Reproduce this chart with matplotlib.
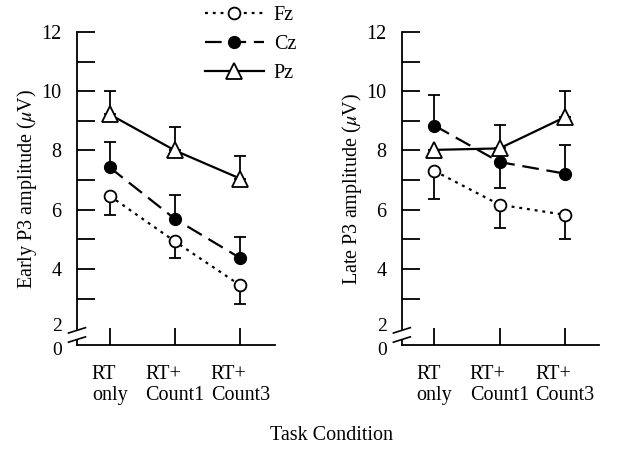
import matplotlib.pyplot as plt
import matplotlib.transforms as mtransforms
import numpy as np

plt.rcParams['font.family'] = ['Liberation Serif', 'DejaVu Serif']
plt.rcParams['mathtext.fontset'] = 'stix'

conditions = ["RT\nonly", "RT+\nCount1", "RT+\nCount3"]

# Early P3 (uV)
early_fz = [6.47, 4.93, 3.45]
early_fz_err = [0.65, 0.57, 0.62]   # drawn downward
early_cz = [7.43, 5.69, 4.37]
early_cz_err = [0.85, 0.80, 0.70]   # drawn upward
early_pz = [9.22, 8.0, 7.05]
early_pz_err = [0.80, 0.78, 0.75]   # drawn upward

# Late P3 (uV)
late_fz = [7.31, 6.17, 5.83]
late_fz_err = [0.95, 0.77, 0.82]
late_cz = [8.84, 7.61, 7.22]
late_cz_err = [1.04, 0.86, 0.95]
late_cz_dir = ["up", "down", "up"]
late_pz = [8.02, 8.07, 9.12]
late_pz_err = [0.0, 0.80, 0.88]

ymin = 1.43
x = np.arange(len(conditions))

fig = plt.figure(figsize=(6.26, 4.5), dpi=100)
ax1 = fig.add_axes([0.123, 0.233, 0.316, 0.696])
ax2 = fig.add_axes([0.642, 0.233, 0.315, 0.696])


def errs(vals, direction):
    lo = [v if d == "down" else 0 for v, d in zip(vals, direction)]
    hi = [v if d == "up" else 0 for v, d in zip(vals, direction)]
    return [lo, hi]


def panel(ax, fz, fz_e, cz, cz_e, cz_dir, pz, pz_e, ylabel):
    ebkw = dict(ecolor="black", elinewidth=1.3, capsize=4.5, capthick=1.3)
    ax.errorbar(x, fz, yerr=errs(fz_e, ["down"] * 3), fmt="none", zorder=2, **ebkw)
    ax.errorbar(x, cz, yerr=errs(cz_e, cz_dir), fmt="none", zorder=2, **ebkw)
    ax.errorbar(x, pz, yerr=errs(pz_e, ["up"] * 3), fmt="none", zorder=2, **ebkw)
    ax.plot(x, fz, color="black", lw=1.6, ls=(0, (1.3, 2.2)), marker="o",
            ms=8.5, mfc="white", mec="black", mew=1.3, label="Fz", zorder=3)
    ax.plot(x, cz, color="black", lw=1.6, ls=(0, (7.5, 3.5)), marker="o",
            ms=8.5, mfc="black", mec="black", label="Cz", zorder=3)
    ax.plot(x, pz, color="black", lw=1.6, ls="-", marker="^",
            ms=11, mfc="white", mec="black", mew=1.3, label="Pz", zorder=3)

    ax.set_xlim(-0.5, 2.53)
    ax.set_ylim(ymin, 12)
    for s in ["top", "right"]:
        ax.spines[s].set_visible(False)
    ax.spines["left"].set_bounds(1.97, 12)
    ax.spines["left"].set_linewidth(1.3)
    ax.spines["bottom"].set_linewidth(1.3)
    # short piece of the y axis under the break
    ax.plot([-0.5, -0.5], [ymin, 1.62], color="black", lw=1.3, clip_on=False)
    # break marks
    for yb in [1.93, 1.62]:
        ax.plot([-0.63, -0.37], [yb - 0.09, yb + 0.09], color="black",
                lw=1.2, clip_on=False)

    yt = [ymin, 2] + list(range(3, 13))
    ylab = ["0", "2"] + [str(v) if v % 2 == 0 else "" for v in range(3, 13)]
    ax.set_yticks(yt)
    ax.set_yticklabels(ylab)
    ticks = ax.yaxis.get_major_ticks()
    ticks[0].tick1line.set_visible(False)
    ticks[1].tick1line.set_visible(False)
    ax.tick_params(axis="y", direction="in", length=13, width=1.3,
                   labelsize=14.5, pad=11)
    # pull the "0" and "2" labels a little apart
    lbls = ax.get_yticklabels()
    for lb, dy in [(lbls[0], -2.5), (lbls[1], 2.5)]:
        lb.set_fontsize(14)
        lb.set_transform(lb.get_transform() + mtransforms.ScaledTranslation(
            0, dy / 72, fig.dpi_scale_trans))
    ax.set_xticks(x)
    ax.set_xticklabels(conditions, multialignment="left")
    ax.tick_params(axis="x", direction="in", length=12, width=1.3,
                   labelsize=14.5, pad=14)
    ax.set_ylabel(ylabel, fontsize=14.5, labelpad=2)


panel(ax1, early_fz, early_fz_err, early_cz, early_cz_err, ["up"] * 3,
      early_pz, early_pz_err, r"Early P3 amplitude ($\mu$V)")
panel(ax2, late_fz, late_fz_err, late_cz, late_cz_err, late_cz_dir,
      late_pz, late_pz_err, r"Late P3 amplitude ($\mu$V)")

handles, labels = ax1.get_legend_handles_labels()
fig.legend(handles, labels, loc="upper left", bbox_to_anchor=(0.315, 1.005),
           frameon=False, fontsize=14.5, handlelength=2.9, handletextpad=0.5,
           labelspacing=0.5, borderaxespad=0)

fig.text(0.53, 0.032, "Task Condition", ha="center", va="center", fontsize=14.5)

fig.savefig("out.png", dpi=100)
